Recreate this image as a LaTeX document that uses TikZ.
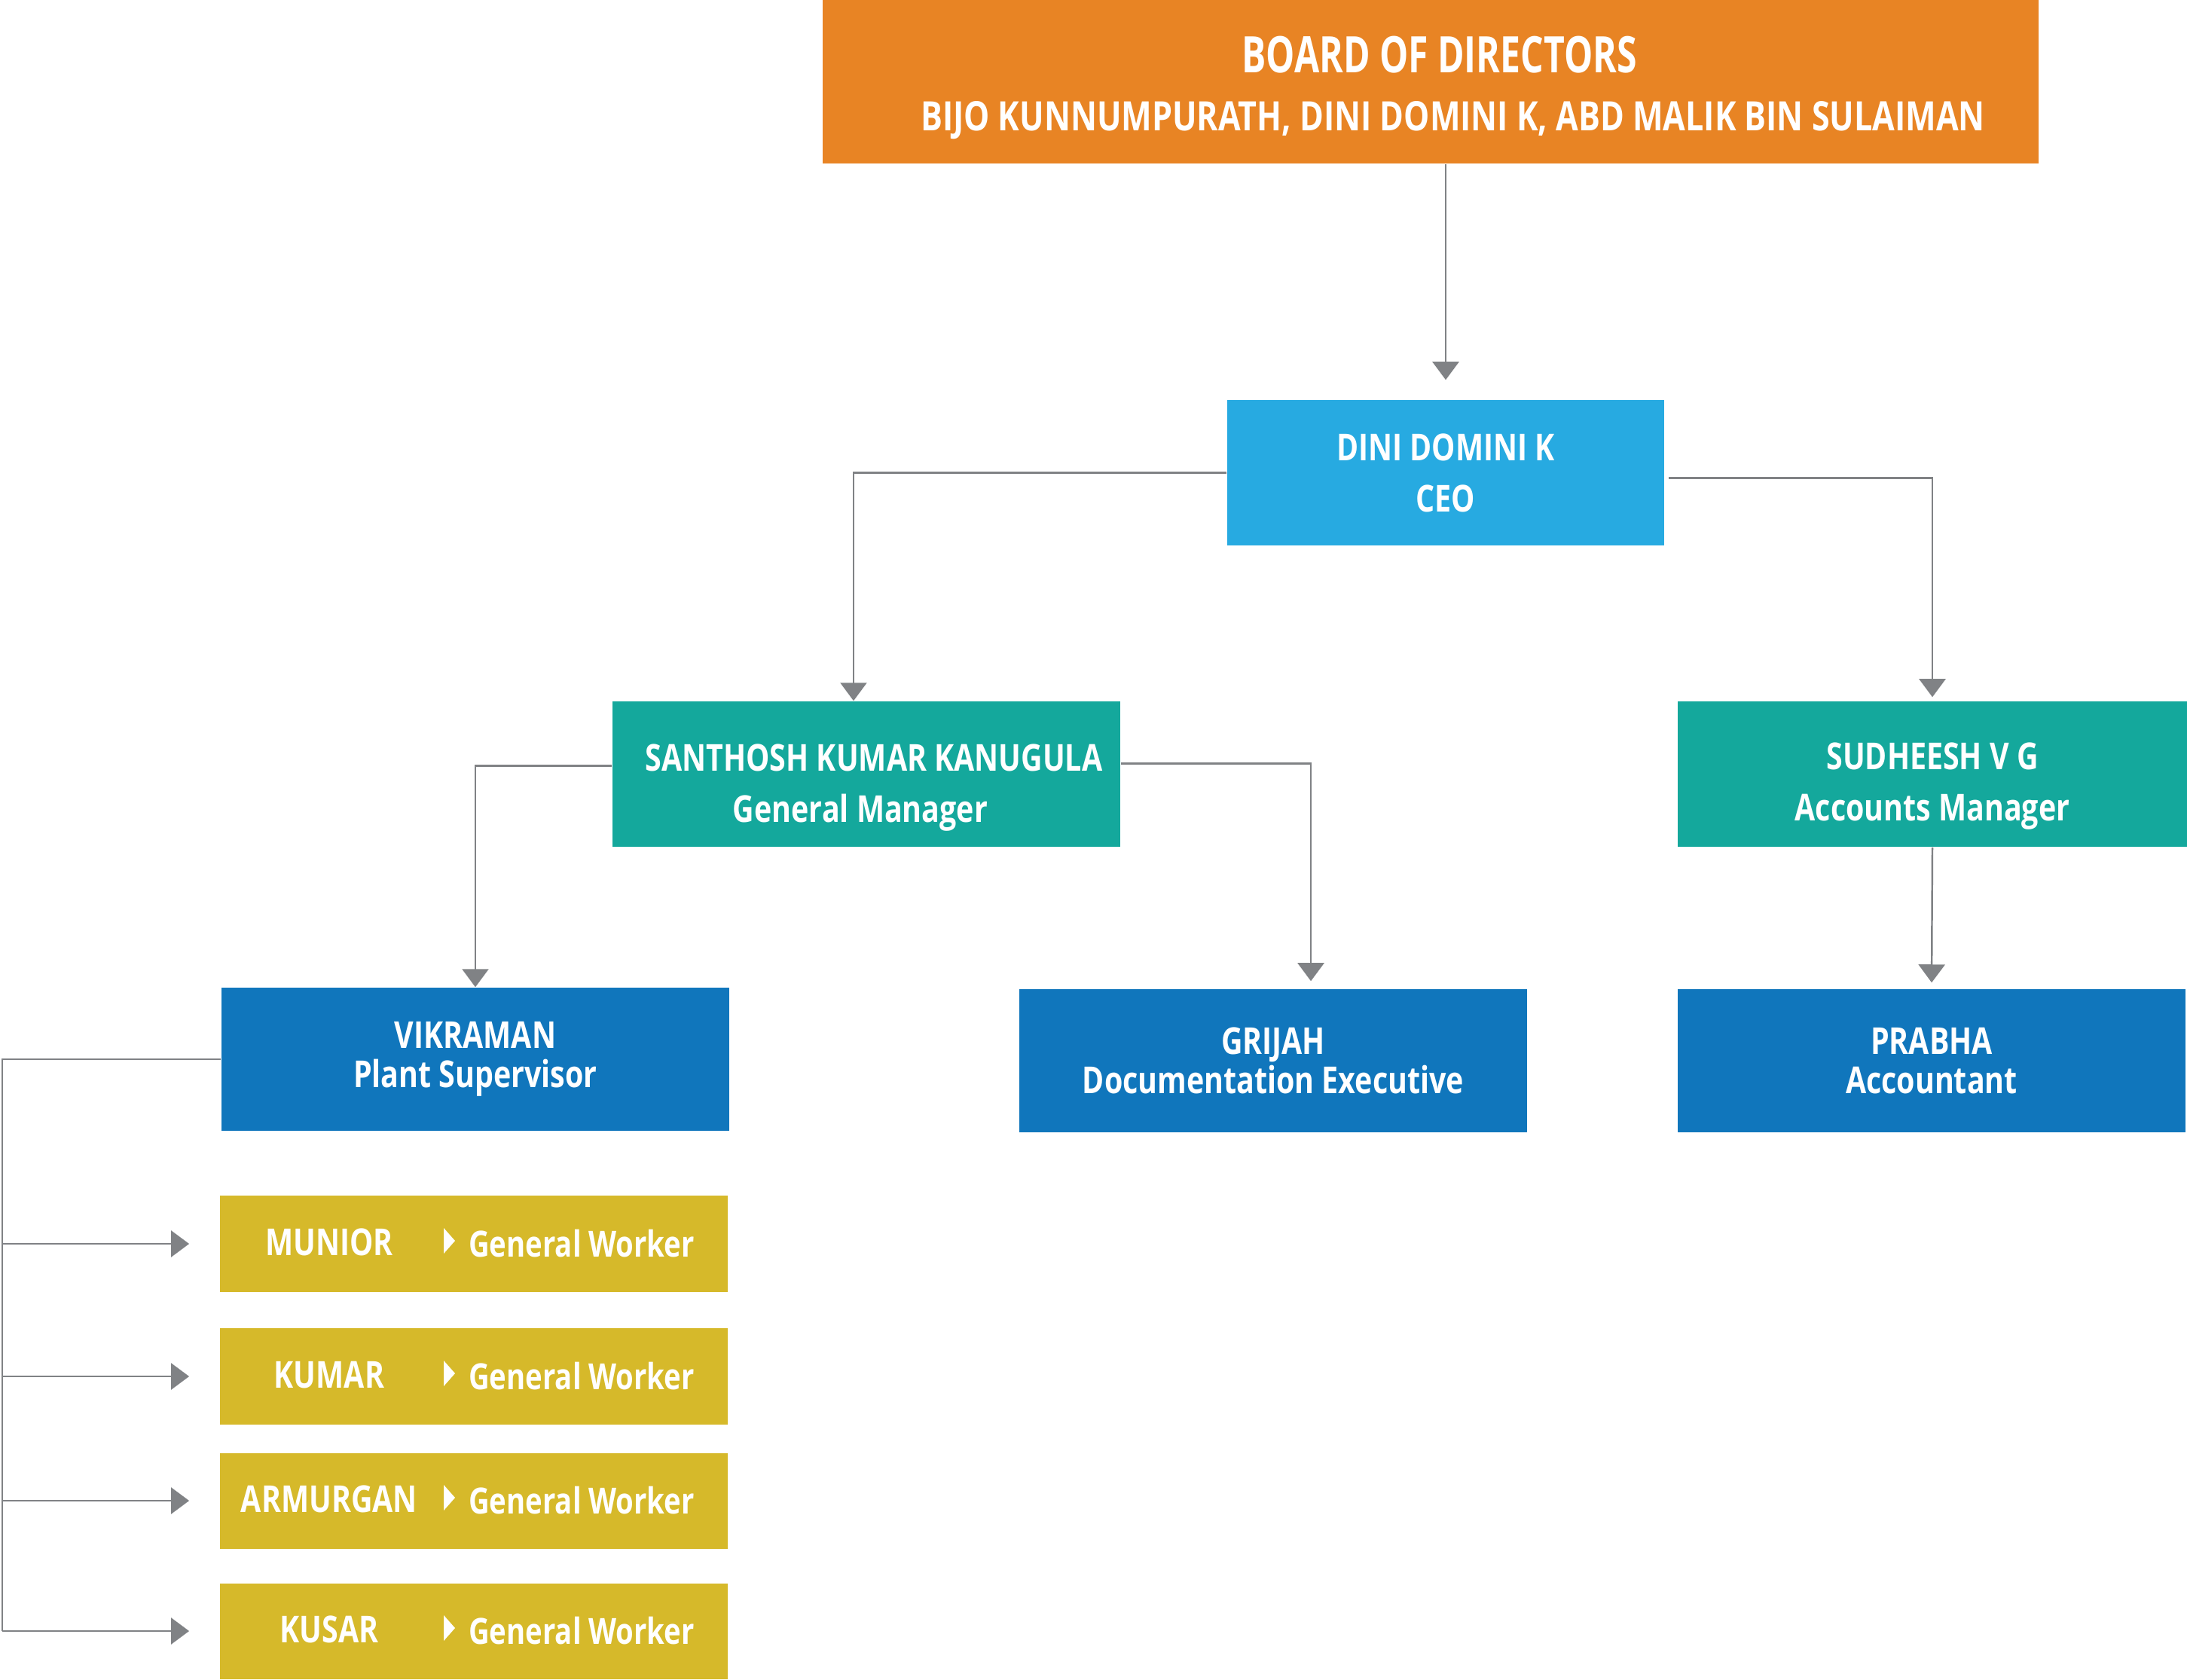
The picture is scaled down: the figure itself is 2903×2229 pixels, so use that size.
\documentclass[tikz,border=0pt]{standalone}
\usepackage{fontspec}
\setmainfont{Open Sans}
\newfontfamily\orgfont[FakeStretch=0.8]{Open Sans}
\newfontfamily\titlefont[FakeStretch=0.72]{Open Sans}
\usetikzlibrary{arrows.meta}

\definecolor{boardorange}{RGB}{232,132,36}
\definecolor{ceoblue}{RGB}{39,170,225}
\definecolor{mgrteal}{RGB}{20,168,156}
\definecolor{staffblue}{RGB}{16,118,188}
\definecolor{workergold}{RGB}{214,185,42}
\definecolor{linkgray}{RGB}{128,130,133}

\tikzset{
  box/.style={inner sep=0pt, text=white, align=center,
              minimum width=6.74cm, minimum height=1.93cm},
  headtext/.style={inner sep=0pt, text=white, align=center,
                   font=\orgfont\bfseries\fontsize{14}{19.4}\selectfont},
  headbox/.style={box, font=\orgfont\bfseries\fontsize{14}{19.4}\selectfont},
  staffbox/.style={box, fill=staffblue, minimum height=1.9cm,
                   font=\orgfont\bfseries\fontsize{14}{14.8}\selectfont},
  workerbox/.style={inner sep=0pt, fill=workergold, minimum width=6.74cm, minimum height=1.27cm},
  workertext/.style={inner sep=0pt, text=white, anchor=base,
                     font=\orgfont\bfseries\fontsize{14}{16}\selectfont},
  link/.style={draw=linkgray, line width=0.7pt},
  arr/.style={link, -{Triangle[width=0.35cm,length=0.24cm]}},
}

\begin{document}
\begin{tikzpicture}[x=0.01cm, y=-0.01cm]
  \useasboundingbox (0,0) rectangle (2903,2229);

  % board and ceo
  \node[box, fill=boardorange, minimum width=16.13cm, minimum height=2.17cm] (board) at (1898.5,108.5) {};
  \node[headtext, font=\orgfont\bfseries\fontsize{15.3}{22}\selectfont] (boardtext)
        at ([xshift=0.12cm, yshift=-0.08cm]board.center)
        {{\titlefont\bfseries\fontsize{19}{22}\selectfont BOARD OF DIRECTORS}\\
         \hspace*{0.36cm}BIJO KUNNUMPURATH, DINI DOMINI K, ABD MALIK BIN SULAIMAN};
  \node[headbox, fill=ceoblue, minimum width=5.8cm] (ceo) at (1919,627.5)
        {DINI DOMINI K\\CEO};

  % managers
  \node[box, fill=mgrteal] (gm) at (1150,1027.5) {};
  \node[headtext] (gmtext) at ([xshift=0.1cm, yshift=-0.18cm]gm.center)
        {SANTHOSH KUMAR KANUGULA\\General Manager\hspace*{0.36cm}};
  \node[box, fill=mgrteal, minimum width=6.76cm] (accm) at (2565,1027.5) {};
  \node[headtext] (accmtext) at ([yshift=-0.16cm]accm.center)
        {SUDHEESH V G\\Accounts Manager};

  % staff
  \node[staffbox] (super) at (631,1406) {VIKRAMAN\\Plant Supervisor};
  \node[staffbox] (docexec) at (1690,1408) {GRIJAH\\Documentation Executive};
  \node[staffbox] (accnt) at (2564,1408) {PRABHA\\Accountant};

  \draw[arr, shorten >=0.26cm] (ceo.north |- board.south) -- (ceo.north);
  \draw[arr] (ceo.west) -| ([xshift=-0.17cm]gm.north);
  \draw[arr, shorten >=0.05cm] ([xshift=0.05cm, yshift=-0.07cm]ceo.east) -| (accm.north);
  \draw[arr] ([yshift=0.11cm]gm.west) -| (super.north);
  \draw[arr, shorten >=0.1cm] ([yshift=0.14cm]gm.east) -| ([xshift=0.5cm]docexec.north);
  \draw[arr, shorten >=0.08cm] (accm.south) -- (accnt.north);

  % general workers off the supervisor
  \coordinate (spine) at (3,1405.5);
  \foreach \name/\y [count=\i] in {MUNIOR/1651, KUMAR/1827, ARMURGAN/1992, KUSAR/2165} {
    \node[workerbox] (w\i) at (629,\y) {};
    \node[workertext] (wn\i) at ([xshift=-1.92cm, yshift=-0.15cm]w\i.center) {\name};
    \fill[white, shift={(w\i.center)}] (-40,-21) -- (-25,-4) -- (-40,13) -- cycle;
    \node[workertext, font=\orgfont\bfseries\fontsize{13.6}{16}\selectfont] (wr\i)
          at ([xshift=1.43cm, yshift=-0.17cm]w\i.center) {General Worker};
    \draw[link] (super.west) -| (spine |- w\i.west);
    \draw[arr, shorten >=0.4cm] (spine |- w\i.west) -- (w\i.west);
  }
\end{tikzpicture}
\end{document}
